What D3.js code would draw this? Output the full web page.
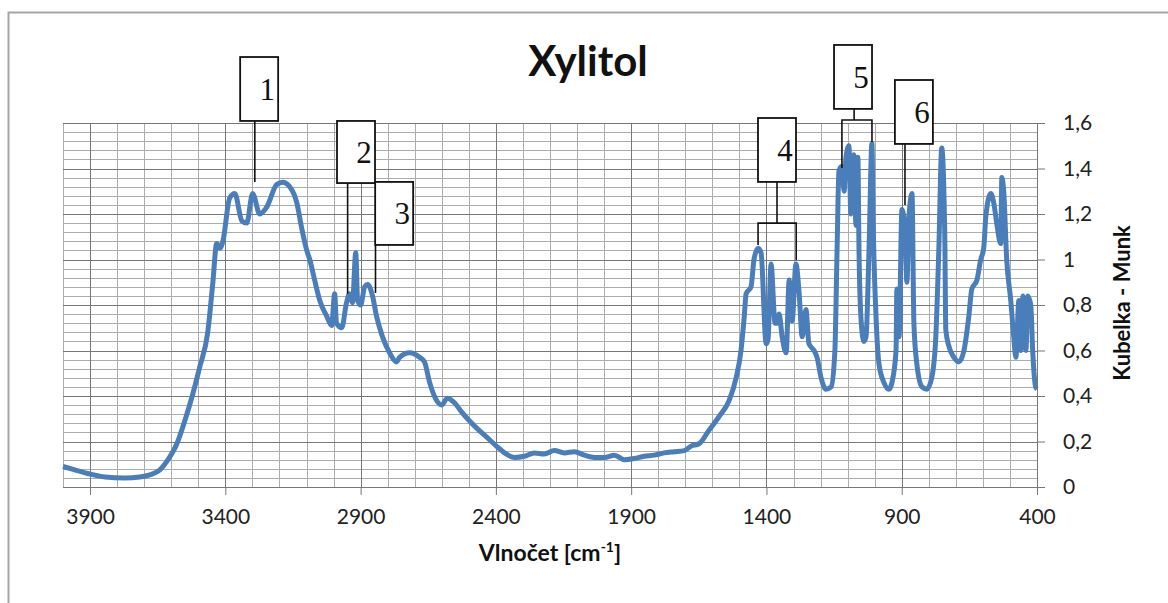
<!DOCTYPE html>
<html>
<head>
<meta charset="utf-8">
<script src="https://cdn.jsdelivr.net/npm/d3@7"></script>
<style>
  body { margin: 0; background: #fff; }
</style>
</head>
<body>
<div id="chart"></div>
<script>
// spectrum (wavenumber, Kubelka-Munk)
const wavenumbers = [4000, 3956, 3900, 3845, 3771, 3716, 3679, 3642, 3612, 3579, 3550, 3520, 3494, 3465, 3446, 3432, 3420, 3409, 3384, 3365,
  3339, 3321, 3299, 3273, 3247, 3210, 3188, 3162, 3136, 3118, 3099, 3088, 3070, 3051, 3025, 3007, 2996, 2989, 2970, 2952,
  2941, 2930, 2918, 2911, 2900, 2885, 2874, 2856, 2841, 2819, 2793, 2767, 2756, 2719, 2682, 2664, 2645, 2619, 2601, 2579,
  2553, 2527, 2505, 2472, 2435, 2398, 2368, 2331, 2295, 2258, 2221, 2184, 2147, 2110, 2073, 2036, 1999, 1962, 1925, 1888,
  1852, 1815, 1778, 1741, 1704, 1678, 1649, 1612, 1575, 1538, 1512, 1494, 1482, 1475, 1457, 1446, 1431, 1420, 1401, 1394,
  1383, 1368, 1361, 1353, 1342, 1327, 1316, 1305, 1291, 1279, 1268, 1254, 1243, 1224, 1213, 1198, 1180, 1161, 1147, 1139,
  1132, 1121, 1113, 1106, 1095, 1088, 1080, 1077, 1069, 1062, 1058, 1051, 1040, 1032, 1021, 1010, 1006, 995, 984, 966,
  947, 936, 921, 918, 910, 899, 888, 881, 873, 862, 855, 844, 825, 807, 789, 774, 763, 752, 741, 737,
  726, 707, 689, 670, 652, 641, 622, 608, 597, 589, 571, 560, 549, 534, 530, 523, 512, 497, 486, 478,
  467, 460, 452, 441, 434, 423, 416, 405, 400];
const kmValues = [0.09, 0.075, 0.057, 0.044, 0.04, 0.044, 0.053, 0.075, 0.12, 0.19, 0.29, 0.41, 0.53, 0.68, 0.90, 1.07, 1.05, 1.08, 1.27, 1.29,
  1.17, 1.16, 1.29, 1.20, 1.23, 1.33, 1.34, 1.32, 1.25, 1.14, 1.04, 1.00, 0.91, 0.82, 0.75, 0.71, 0.85, 0.72, 0.70, 0.81,
  0.85, 0.81, 1.03, 0.82, 0.80, 0.88, 0.89, 0.84, 0.75, 0.66, 0.59, 0.55, 0.57, 0.59, 0.57, 0.55, 0.46, 0.38, 0.36, 0.39,
  0.37, 0.33, 0.30, 0.26, 0.22, 0.18, 0.15, 0.13, 0.135, 0.15, 0.145, 0.16, 0.15, 0.155, 0.14, 0.13, 0.13, 0.14, 0.12, 0.125,
  0.135, 0.14, 0.15, 0.155, 0.16, 0.18, 0.19, 0.25, 0.31, 0.38, 0.48, 0.60, 0.75, 0.85, 0.88, 1.00, 1.05, 1.03, 0.63, 0.65,
  0.98, 0.72, 0.72, 0.76, 0.66, 0.59, 0.91, 0.73, 0.98, 0.85, 0.66, 0.78, 0.63, 0.60, 0.57, 0.48, 0.43, 0.44, 0.60, 1.04,
  1.39, 1.41, 1.30, 1.45, 1.50, 1.20, 1.40, 1.46, 1.15, 1.45, 1.05, 0.75, 0.64, 0.66, 1.04, 1.51, 1.19, 0.75, 0.54, 0.46,
  0.43, 0.46, 0.60, 0.87, 0.66, 1.22, 1.13, 0.90, 1.19, 1.29, 0.72, 0.54, 0.44, 0.43, 0.48, 0.66, 1.04, 1.49, 1.12, 0.69,
  0.62, 0.57, 0.55, 0.60, 0.75, 0.87, 0.91, 1.00, 1.05, 1.19, 1.29, 1.25, 1.16, 1.07, 1.36, 1.30, 1.00, 0.82, 0.66, 0.57,
  0.82, 0.60, 0.84, 0.60, 0.84, 0.80, 0.60, 0.44, 0.43];

const xTicks = [3900, 3400, 2900, 2400, 1900, 1400, 900, 400];
const yTicks = [0, 0.2, 0.4, 0.6, 0.8, 1, 1.2, 1.4, 1.6];

// peak labels: box centre (cm-1), box top/bottom (K-M units), leader polylines
const annoLabels = ["1", "2", "3", "4", "5", "6"];
const annoWn = [3275, 2917, 2776, 1361, 1080, 855];
const annoTop = [1.89, 1.609, 1.341, 1.622, 1.943, 1.789];
const annoBottom = [1.609, 1.336, 1.064, 1.341, 1.662, 1.508];
const annoLeaders = [
  [[[3291, 1.609], [3291, 1.341]]],
  [[[2948, 1.336], [2948, 0.85]]],
  [[[2845, 1.064], [2845, 0.853]]],
  [[[1361, 1.341], [1361, 1.160]], [[1431, 1.064], [1431, 1.160], [1290, 1.160], [1290, 0.998]]],
  [[[1076, 1.662], [1076, 1.613]], [[1121, 1.402], [1121, 1.613], [1010, 1.613], [1010, 1.516]]],
  [[[888, 1.508], [888, 1.240]]]
];

const W = 1168, H = 603;
const margin = { top: 123, right: 131, bottom: 116, left: 63 };
const width = W - margin.left - margin.right,
  height = H - margin.top - margin.bottom;
const sans = "Lato, 'Open Sans', sans-serif";

const svg = d3.select("#chart").append("svg")
  .attr("width", W).attr("height", H);

// chart area border
svg.append("rect")
  .attr("x", 8.5).attr("y", 12.5)
  .attr("width", W + 20).attr("height", H + 20)
  .attr("fill", "#fff").attr("stroke", "#a5a5a5").attr("stroke-width", 2);

svg.append("text")
  .attr("x", 588).attr("y", 76)
  .attr("text-anchor", "middle")
  .style("font-family", sans)
  .attr("font-size", 42).attr("font-weight", "bold")
  .attr("fill", "#111")
  .text("Xylitol");

const g = svg.append("g").attr("transform", `translate(${margin.left},${margin.top})`);

const x = d3.scaleLinear().domain([4000, 400]).range([0, width]);
const y = d3.scaleLinear().domain([0, 1.6]).range([height, 0]);

// gridlines
const xMinor = d3.range(4000, 399, -100);
const yMinor = d3.range(0, 1.6001, 0.04);
g.append("g").selectAll("line")
  .data(xMinor)
  .join("line")
  .attr("x1", d => Math.round(x(d)) + 0.5).attr("x2", d => Math.round(x(d)) + 0.5)
  .attr("y1", 0).attr("y2", height)
  .attr("stroke", "#acacac").attr("stroke-width", 1);
g.append("g").selectAll("line")
  .data(yMinor)
  .join("line")
  .attr("x1", 0).attr("x2", width)
  .attr("y1", d => Math.round(y(d)) + 0.5).attr("y2", d => Math.round(y(d)) + 0.5)
  .attr("stroke", "#acacac").attr("stroke-width", 1);
g.append("g").selectAll("line")
  .data(xTicks)
  .join("line")
  .attr("x1", d => Math.round(x(d)) + 0.5).attr("x2", d => Math.round(x(d)) + 0.5)
  .attr("y1", 0).attr("y2", height)
  .attr("stroke", "#777").attr("stroke-width", 1);
g.append("g").selectAll("line")
  .data(yTicks)
  .join("line")
  .attr("x1", 0).attr("x2", width)
  .attr("y1", d => Math.round(y(d)) + 0.5).attr("y2", d => Math.round(y(d)) + 0.5)
  .attr("stroke", "#777").attr("stroke-width", 1);

// spectrum
const points = wavenumbers.map((w, i) => [w, kmValues[i]]);
g.append("path")
  .datum(points)
  .attr("fill", "none")
  .attr("stroke", "#4a7ebb")
  .attr("stroke-width", 5)
  .attr("stroke-linejoin", "round")
  .attr("d", d3.line().x(d => x(d[0])).y(d => y(d[1])).curve(d3.curveMonotoneX));

// axes
const fmt = d3.formatLocale({ decimal: ",", thousands: " ", grouping: [3], currency: ["", ""] }).format("~g");
const xAxis = g.append("g")
  .attr("transform", `translate(0,${height})`)
  .call(d3.axisBottom(x).tickValues(xTicks).tickFormat(d3.format("d")).tickSize(8).tickSizeOuter(0).tickPadding(14));
const yAxis = g.append("g")
  .attr("transform", `translate(${width},0)`)
  .call(d3.axisRight(y).tickValues(yTicks).tickFormat(fmt).tickSize(8).tickSizeOuter(0).tickPadding(18));
[xAxis, yAxis].forEach(a => {
  a.select(".domain").attr("stroke", "#777");
  a.selectAll(".tick line").attr("stroke", "#777");
  a.selectAll("text").style("font-family", sans).attr("font-size", 21).attr("fill", "#222");
});

// axis titles
const xt = svg.append("text")
  .attr("x", margin.left + width / 2).attr("y", 561)
  .attr("text-anchor", "middle")
  .style("font-family", sans)
  .attr("font-size", 23).attr("font-weight", "bold").attr("fill", "#111");
xt.append("tspan").text("Vlnočet [cm");
xt.append("tspan").attr("font-size", 14).attr("dy", -9).text("-1");
xt.append("tspan").attr("dy", 9).text("]");

svg.append("text")
  .attr("transform", `translate(1130,303) rotate(-90)`)
  .attr("text-anchor", "middle")
  .style("font-family", sans)
  .attr("font-size", 22).attr("font-weight", "bold").attr("fill", "#111")
  .text("Kubelka - Munk");

// annotations
const ann = g.append("g");
annoLabels.forEach((lab, i) => {
  annoLeaders[i].forEach(pl => {
    ann.append("path")
      .attr("d", d3.line().x(d => x(d[0])).y(d => y(d[1]))(pl))
      .attr("fill", "none").attr("stroke", "#111").attr("stroke-width", 1.6);
  });
  const cx = x(annoWn[i]);
  ann.append("rect")
    .attr("x", cx - 19).attr("y", y(annoTop[i]))
    .attr("width", 38).attr("height", y(annoBottom[i]) - y(annoTop[i]))
    .attr("fill", "#fff").attr("stroke", "#111").attr("stroke-width", 1.8);
  ann.append("text")
    .attr("x", cx + 8).attr("y", (y(annoTop[i]) + y(annoBottom[i])) / 2)
    .attr("dy", "0.35em")
    .attr("text-anchor", "middle")
    .style("font-family", "'Liberation Serif', 'DejaVu Serif', serif")
    .attr("font-size", 31).attr("fill", "#111")
    .text(lab);
});
</script>
</body>
</html>
